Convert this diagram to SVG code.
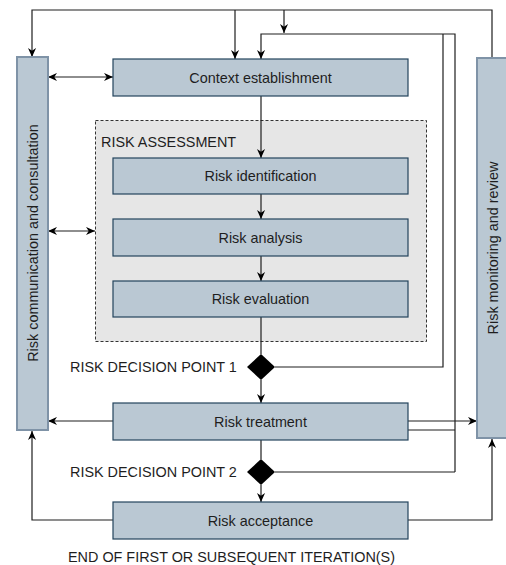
<svg xmlns="http://www.w3.org/2000/svg" width="506" height="565" viewBox="0 0 506 565">
<style>
text{font-family:"Liberation Sans",Arial,sans-serif;font-size:14.4px;fill:#1e1e1e;dominant-baseline:central}
.c{text-anchor:middle}
.box{fill:#bac8d3;stroke:#23445d;stroke-width:1.2}
.col{fill:#bac8d3;stroke:#7f93a7;stroke-width:2}
.ln{fill:none;stroke:#1e1e1e;stroke-width:1.2}
.dia{fill:#000}
</style>
<defs>
<marker id="a" viewBox="0 0 10 10" refX="10" refY="5" markerWidth="9" markerHeight="9" markerUnits="userSpaceOnUse" orient="auto-start-reverse">
<path d="M0,0.5 L10,5 L0,9.5 L3,5 z" fill="#000"/>
</marker>
</defs>
<rect width="506" height="565" fill="#fff"/>
<g id="risk-assessment">
<rect x="95.5" y="120.5" width="331" height="221" fill="#e6e6e6" stroke="#333" stroke-width="1" stroke-dasharray="3,2"/>
<text x="101" y="142">RISK ASSESSMENT</text>
</g>
<g id="connectors">
<path class="ln" d="M492,58 V10 H32 V57" marker-end="url(#a)"/>
<path class="ln" d="M235,10 V59" marker-end="url(#a)"/>
<path class="ln" d="M284,10 V33" marker-end="url(#a)"/>
<path class="ln" d="M455,472 V34 H261 V59" marker-end="url(#a)"/>
<path class="ln" d="M275,367 H443 V34"/>
<path class="ln" d="M408,430 H455"/>
<path class="ln" d="M48,77 H113" marker-start="url(#a)" marker-end="url(#a)"/>
<path class="ln" d="M48,231 H95" marker-start="url(#a)" marker-end="url(#a)"/>
<path class="ln" d="M261,96 V158" marker-end="url(#a)"/>
<path class="ln" d="M261,194 V219" marker-end="url(#a)"/>
<path class="ln" d="M261,256 V281" marker-end="url(#a)"/>
<path class="ln" d="M261,317 V354"/>
<path class="ln" d="M261,380 V403" marker-end="url(#a)"/>
<path class="ln" d="M261,440 V459"/>
<path class="ln" d="M261,485 V502" marker-end="url(#a)"/>
<path class="ln" d="M275,472 H455"/>
<path class="ln" d="M113,421 H48" marker-end="url(#a)"/>
<path class="ln" d="M408,421 H477" marker-end="url(#a)"/>
<path class="ln" d="M113,520 H32 V431" marker-end="url(#a)"/>
<path class="ln" d="M408,520 H492 V439" marker-end="url(#a)"/>
</g>
<g id="communication">
<rect class="col" x="17" y="57" width="31" height="373"/>
<text class="c" transform="translate(33,243) rotate(-90)">Risk communication and consultation</text>
</g>
<g id="monitoring">
<rect class="col" x="477" y="58" width="32" height="380"/>
<text class="c" transform="translate(493,248) rotate(-90)">Risk monitoring and review</text>
</g>
<g id="context">
<rect class="box" x="113" y="59" width="295" height="37"/>
<text class="c" x="260.5" y="77.5">Context establishment</text>
</g>
<g id="identification">
<rect class="box" x="113" y="158" width="295" height="36"/>
<text class="c" x="260.5" y="176">Risk identification</text>
</g>
<g id="analysis">
<rect class="box" x="113" y="219" width="295" height="37"/>
<text class="c" x="260.5" y="237.5">Risk analysis</text>
</g>
<g id="evaluation">
<rect class="box" x="113" y="281" width="295" height="36"/>
<text class="c" x="260.5" y="299">Risk evaluation</text>
</g>
<g id="decision1">
<path class="dia" d="M261,354 L275,367 L261,380 L247,367 z"/>
<text x="70" y="367">RISK DECISION POINT 1</text>
</g>
<g id="treatment">
<rect class="box" x="113" y="403" width="295" height="37"/>
<text class="c" x="260.5" y="421.5">Risk treatment</text>
</g>
<g id="decision2">
<path class="dia" d="M261,459 L275,472 L261,485 L247,472 z"/>
<text x="70" y="472">RISK DECISION POINT 2</text>
</g>
<g id="acceptance">
<rect class="box" x="113" y="502" width="295" height="37"/>
<text class="c" x="260.5" y="520.5">Risk acceptance</text>
</g>
<g id="end">
<text x="68" y="557">END OF FIRST OR SUBSEQUENT ITERATION(S)</text>
</g>
</svg>
